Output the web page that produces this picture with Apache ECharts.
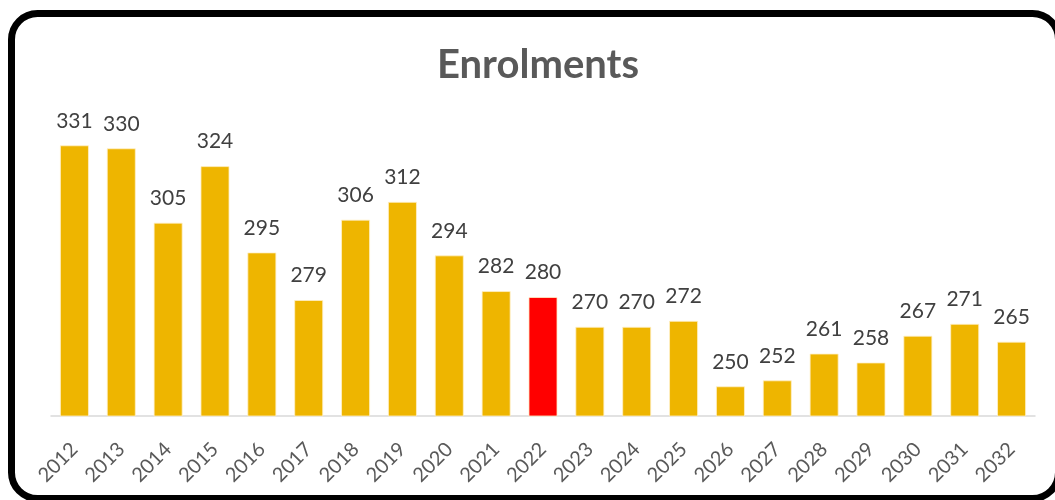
<!DOCTYPE html>
<html><head><meta charset="utf-8">
<script src="https://cdn.jsdelivr.net/npm/echarts@6/dist/echarts.min.js"></script>
<style>html,body{margin:0;padding:0;background:#fff}#c{width:1055px;height:500px}</style>
</head><body><div id="c"></div>
<script>
const categories = ['2012','2013','2014','2015','2016','2017','2018','2019','2020','2021','2022','2023','2024','2025','2026','2027','2028','2029','2030','2031','2032'];
const enrolments = [331,330,305,324,295,279,306,312,294,282,280,270,270,272,250,252,261,258,267,271,265];
const highlightYear = '2022';
const chart = echarts.init(document.getElementById('c'));
chart.setOption({
  animation:false,
  title:{text:'Enrolments',left:432,top:40,textStyle:{fontFamily:'Lato',fontWeight:'bold',fontSize:40,color:'#595959'}},
  grid:{left:51,right:20,top:118.5,bottom:84},
  xAxis:{type:'category',data:categories,axisTick:{show:false},
    axisLine:{lineStyle:{color:'#d9d9d9',width:1.5}},
    axisLabel:{rotate:45,fontFamily:'Lato',fontSize:20,color:'#595959',margin:30,interval:0}},
  yAxis:{type:'value',min:240,max:340,show:false,splitLine:{show:false}},
  series:[{type:'bar',barCategoryGap:'38%',
    data:enrolments.map((v,i)=>({value:v,itemStyle:{color:categories[i]===highlightYear?'#FF0000':'#EEB500'}})),
    itemStyle:{borderColor:'rgba(255,240,200,0.8)',borderWidth:1},
    label:{show:true,position:'top',distance:14,fontFamily:'Lato',fontSize:21,color:'#404040'}}],
  graphic:[{type:'rect',shape:{x:11.5,y:13.5,width:1047,height:485,r:26},style:{fill:'none',stroke:'#000',lineWidth:7},silent:true}]
});
</script></body></html>
